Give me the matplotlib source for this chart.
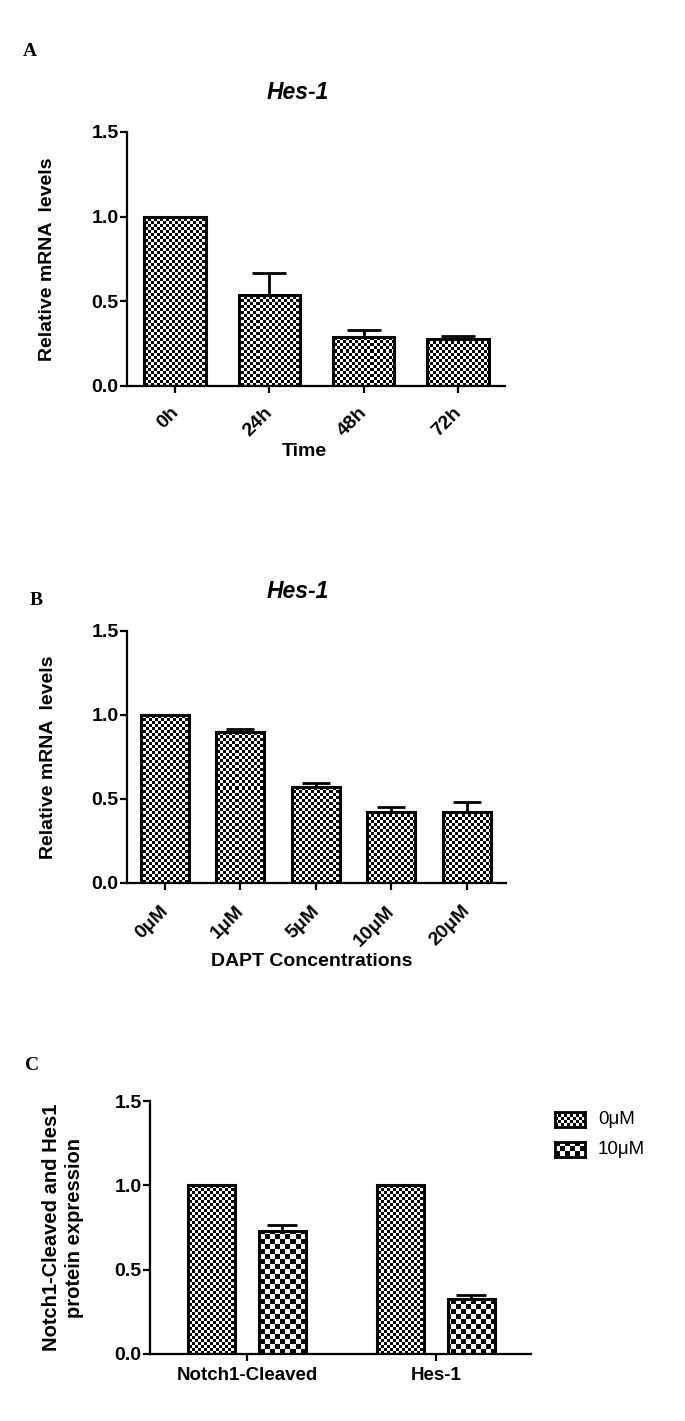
import matplotlib.pyplot as plt
import numpy as np
from matplotlib.transforms import ScaledTranslation

plt.rcParams['font.family'] = ['Liberation Sans', 'DejaVu Sans']
plt.rcParams['font.weight'] = 'bold'
plt.rcParams['axes.labelweight'] = 'bold'

W, H = 685, 1421

# panel A: Hes-1 over time
time_labels = ['0h', '24h', '48h', '72h']
time_mean = [1.0, 0.54, 0.29, 0.28]
time_err = [0.0, 0.13, 0.04, 0.015]

# panel B: Hes-1 vs DAPT dose
dapt_labels = ['0μM', '1μM', '5μM', '10μM', '20μM']
dapt_mean = [1.0, 0.90, 0.57, 0.42, 0.42]
dapt_err = [0.0, 0.015, 0.025, 0.033, 0.06]

# panel C: protein expression
protein_groups = ['Notch1-Cleaved', 'Hes-1']
series_names = ['0μM', '10μM']
protein_0uM = [1.0, 1.0]
protein_10uM = [0.73, 0.325]
protein_10uM_err = [0.035, 0.025]

fig = plt.figure(figsize=(W / 100, H / 100), dpi=100)


def px_axes(x0, x1, ytop, ybot):
    return fig.add_axes([x0 / W, 1 - ybot / H, (x1 - x0) / W, (ybot - ytop) / H])


def checker(ax, cell):
    # checkerboard texture, one cell = `cell` pixels
    pos = ax.get_position()
    nx = int(round(pos.width * W / cell))
    ny = int(round(pos.height * H / cell))
    return np.indices((ny, nx)).sum(axis=0) % 2


def textured_bars(ax, x, heights, width, cell):
    bars = ax.bar(x, heights, width, facecolor='none', edgecolor='black',
                  linewidth=2.2, joinstyle='miter', zorder=3)
    tex = checker(ax, cell)
    for b in bars:
        im = ax.imshow(tex, cmap='gray', extent=(0, 1, 0, 1), transform=ax.transAxes,
                       interpolation='nearest', aspect='auto', zorder=2)
        im.set_clip_path(b)
    return bars


def style(ax):
    ax.set_ylim(0, 1.5)
    ax.set_yticks([0, 0.5, 1.0, 1.5])
    ax.set_yticklabels(['0.0', '0.5', '1.0', '1.5'])
    for s in ['top', 'right']:
        ax.spines[s].set_visible(False)
    for s in ['left', 'bottom']:
        ax.spines[s].set_linewidth(1.6)
    ax.tick_params(axis='both', width=1.6, length=5, labelsize=14)
    ax.tick_params(axis='y', pad=1)


def shift_labels(ax, dx):
    off = ScaledTranslation(dx / 72, 0, fig.dpi_scale_trans)
    for lab in ax.get_xticklabels():
        lab.set_transform(lab.get_transform() + off)


# ---- A ----
axA = px_axes(127, 505, 132, 386)
xa = np.arange(len(time_labels))
axA.errorbar(xa, time_mean, yerr=[np.zeros(len(xa)), time_err], fmt='none',
             ecolor='black', elinewidth=2, capsize=12, capthick=2, zorder=1)
textured_bars(axA, xa, time_mean, 0.65, 3)
style(axA)
axA.set_xlim(-0.51, 3.5)
axA.set_xticks(xa)
axA.set_xticklabels(time_labels, rotation=45, ha='right')
axA.tick_params(axis='x', pad=8)
shift_labels(axA, 5)
axA.set_ylabel('Relative mRNA  levels', fontsize=14, va='center')
axA.yaxis.set_label_coords(-0.209, 0.5)
axA.set_xlabel('Time', fontsize=14, va='center')
axA.xaxis.set_label_coords(0.468, -0.256)
axA.text(0.452, 1.154, 'Hes-1', transform=axA.transAxes, ha='center', va='center',
         fontsize=16.5, style='italic', weight='bold')

# ---- B ----
axB = px_axes(127, 506, 631, 883)
xb = np.arange(len(dapt_labels))
axB.errorbar(xb, dapt_mean, yerr=[np.zeros(len(xb)), dapt_err], fmt='none',
             ecolor='black', elinewidth=2, capsize=10, capthick=2, zorder=1)
textured_bars(axB, xb, dapt_mean, 0.64, 3)
style(axB)
axB.set_xlim(-0.5, 4.52)
axB.set_xticks(xb)
axB.set_xticklabels(dapt_labels, rotation=45, ha='right')
axB.tick_params(axis='x', pad=9)
shift_labels(axB, 5)
axB.set_ylabel('Relative mRNA  levels', fontsize=14, va='center')
axB.yaxis.set_label_coords(-0.206, 0.5)
axB.set_xlabel('DAPT Concentrations', fontsize=14, va='center')
axB.xaxis.set_label_coords(0.488, -0.313)
axB.text(0.451, 1.155, 'Hes-1', transform=axB.transAxes, ha='center', va='center',
         fontsize=16.5, style='italic', weight='bold')

# ---- C ----
axC = px_axes(150, 531, 1101, 1354)
xc = np.arange(len(protein_groups))
off = 0.188
textured_bars(axC, xc - off, protein_0uM, 0.245, 3)
axC.errorbar(xc + off, protein_10uM, yerr=[np.zeros(len(xc)), protein_10uM_err], fmt='none',
             ecolor='black', elinewidth=2, capsize=11, capthick=2, zorder=1)
textured_bars(axC, xc + off, protein_10uM, 0.245, 5)
style(axC)
axC.set_xlim(-0.513, 1.503)
axC.set_xticks(xc)
axC.set_xticklabels(protein_groups, fontsize=13.5)
axC.tick_params(axis='x', pad=4)
axC.set_ylabel('Notch1-Cleaved and Hes1\nprotein expression', fontsize=14.5,
               va='center', multialignment='center', linespacing=1.3)
axC.yaxis.set_label_coords(-0.228, 0.5)

# legend for C
for i, (name, cell) in enumerate(zip(series_names, [3, 5])):
    yc = 1119 + 30 * i
    lax = px_axes(555, 585, yc - 7.5, yc + 7.5)
    lax.imshow(checker(lax, cell), cmap='gray', interpolation='nearest', aspect='auto')
    lax.set_xticks([])
    lax.set_yticks([])
    for s in lax.spines.values():
        s.set_linewidth(2)
    fig.text(598 / W, 1 - yc / H, name, fontsize=13.5, weight='normal', va='center', ha='left')

# panel letters
for letter, (lx, ly) in zip('ABC', [(23, 52), (30, 600), (25, 1065)]):
    fig.text(lx / W, 1 - ly / H, letter, family='Liberation Serif', weight='bold',
             fontsize=14, va='center', ha='left')

fig.savefig('out.png', dpi=100)
